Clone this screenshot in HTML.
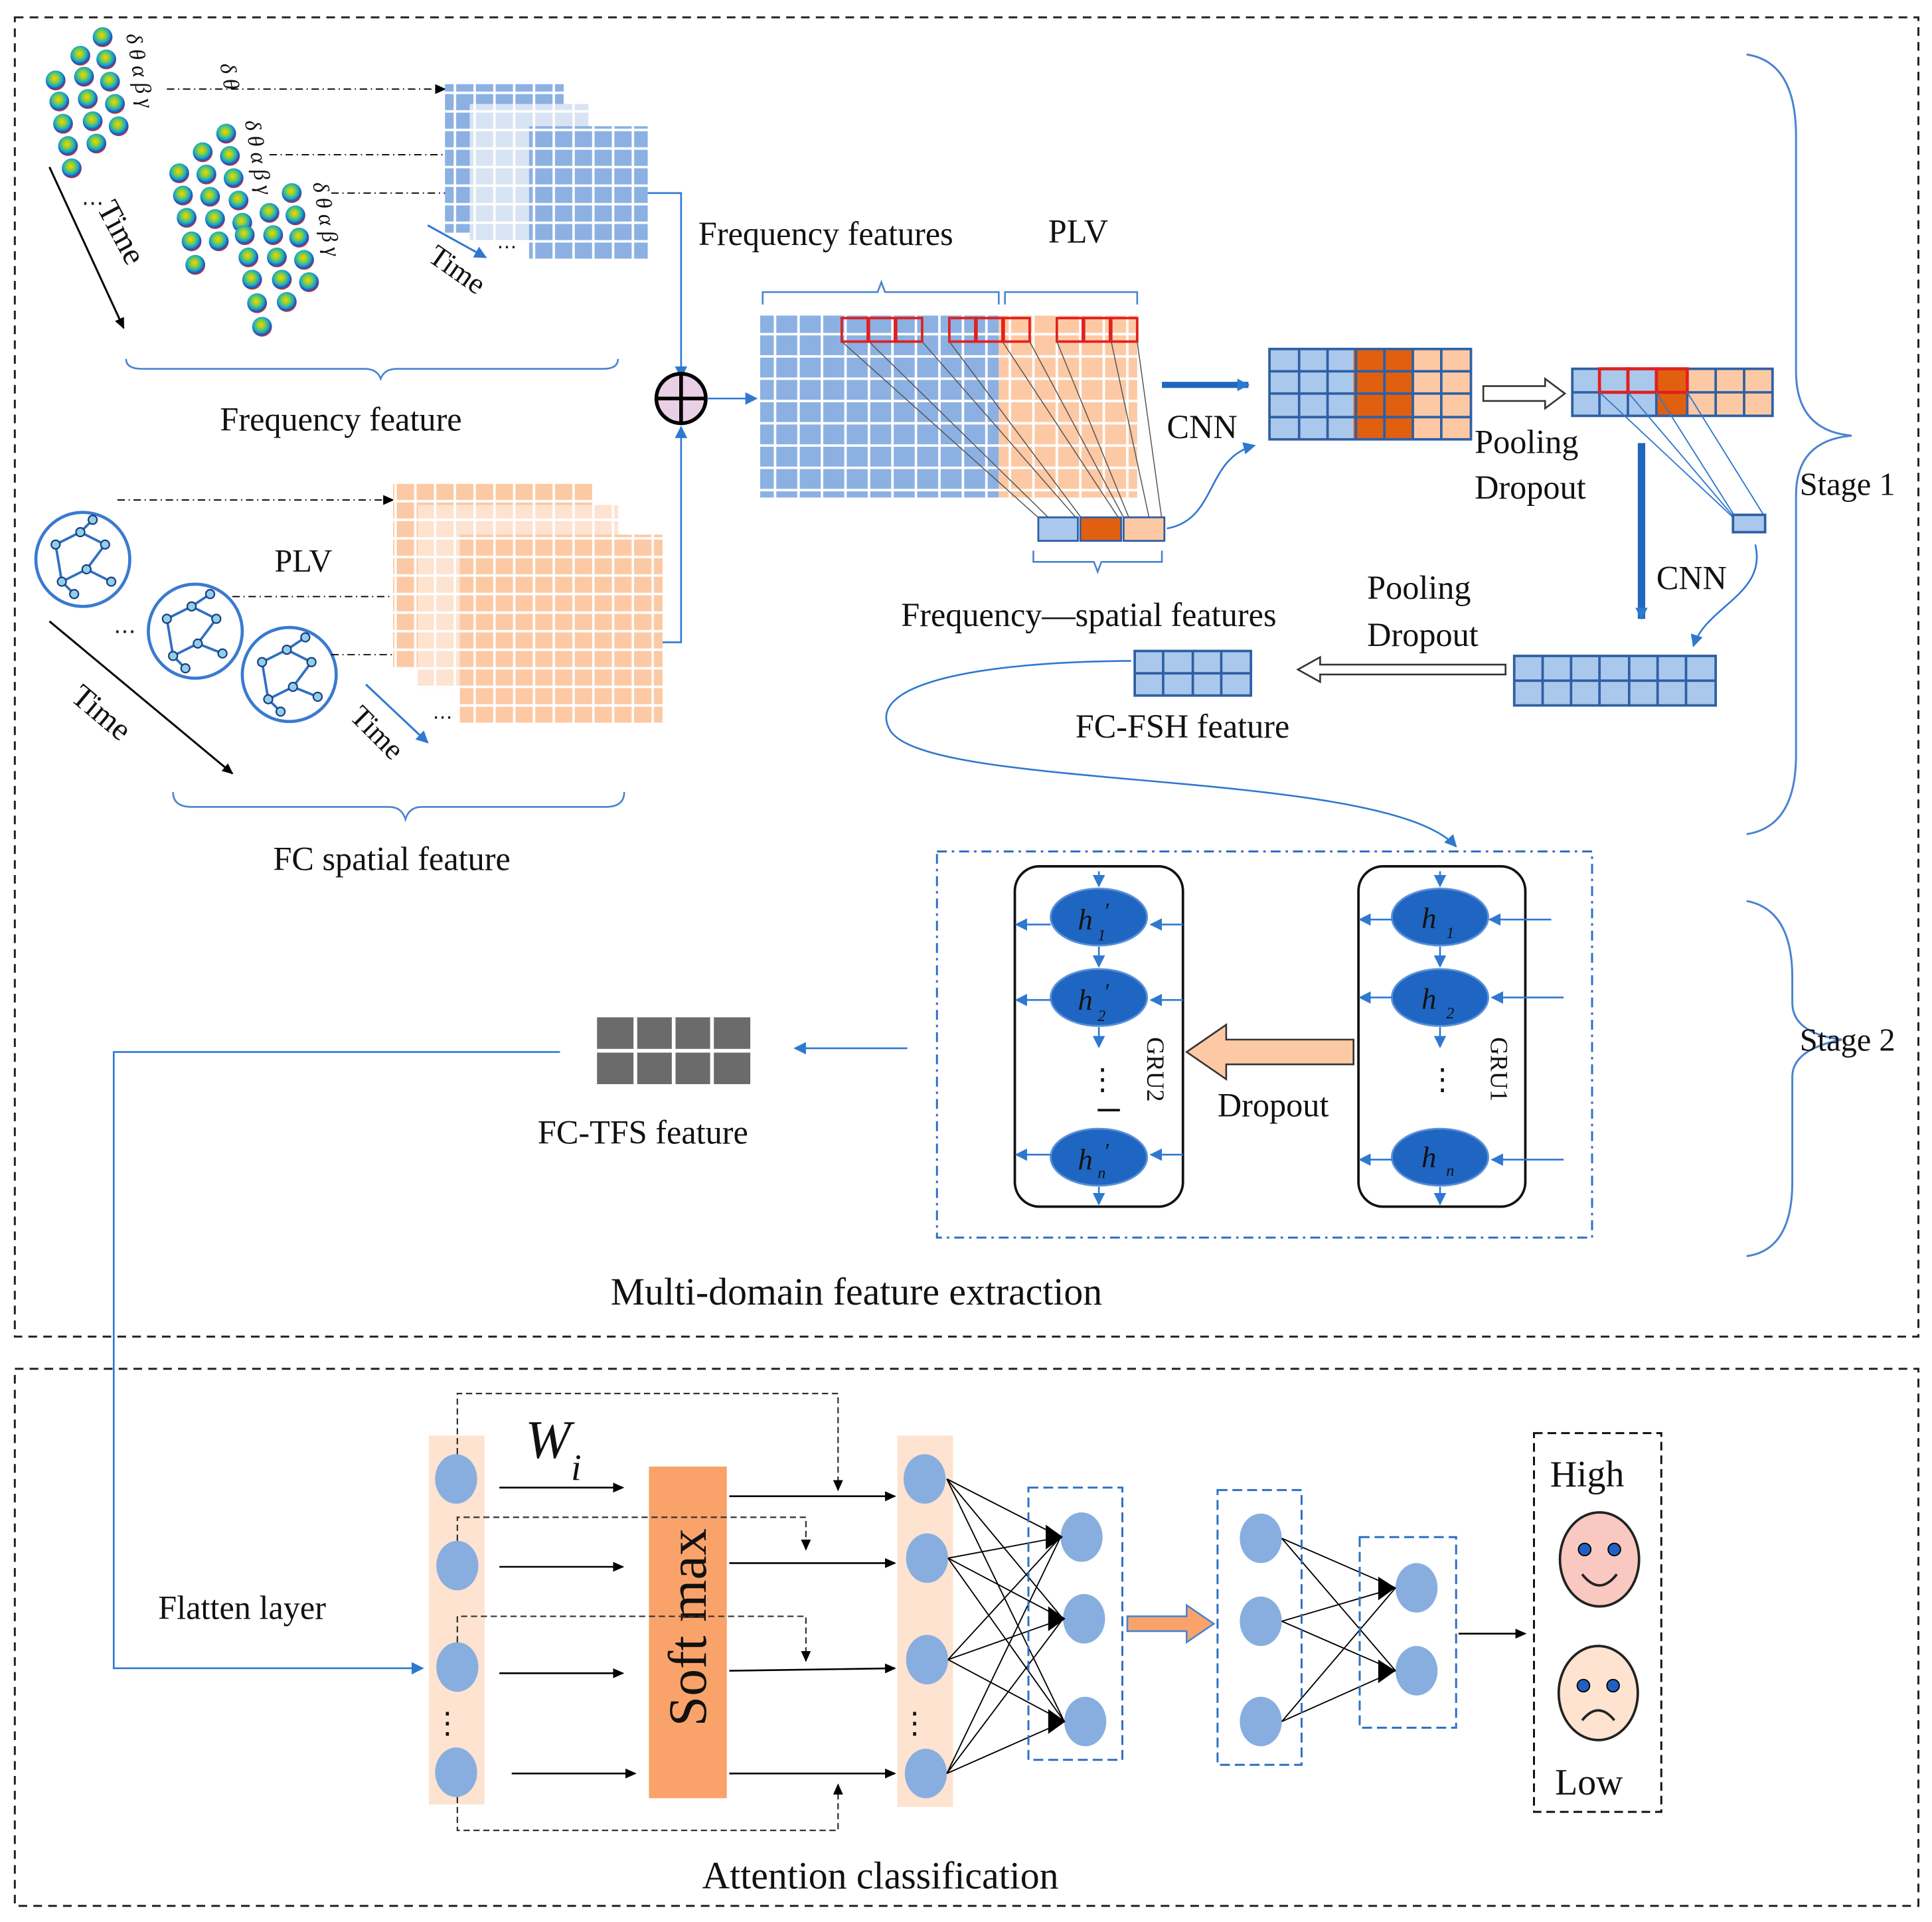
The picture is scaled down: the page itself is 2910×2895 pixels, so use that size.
<!DOCTYPE html>
<html><head><meta charset="utf-8"><style>
html,body{margin:0;padding:0;background:#fff;}
svg{display:block;}
text{font-family:"Liberation Serif",serif;fill:#111;}
</style></head><body>
<svg width="2910" height="2895" viewBox="0 0 1563 1553" preserveAspectRatio="none" xmlns="http://www.w3.org/2000/svg">
<defs>
<marker id="ab" markerWidth="10" markerHeight="10" refX="8" refY="5" orient="auto" markerUnits="userSpaceOnUse"><path d="M0,1 L9,5 L0,9 z" fill="#000"/></marker>
<marker id="au" markerWidth="12" markerHeight="12" refX="9" refY="6" orient="auto" markerUnits="userSpaceOnUse"><path d="M0,1 L10,6 L0,11 z" fill="#2f78d0"/></marker>
<pattern id="gb" width="19" height="18" patternUnits="userSpaceOnUse"><rect width="19" height="18" fill="#fff"/><rect x="1" y="1" width="17" height="16" fill="#8cb0e2"/></pattern>
<pattern id="go" width="19" height="18" patternUnits="userSpaceOnUse"><rect width="19" height="18" fill="#fff"/><rect x="1" y="1" width="17" height="16" fill="#fcc9a4"/></pattern>
<pattern id="gb2" width="16" height="15" patternUnits="userSpaceOnUse"><rect width="16" height="15" fill="#fff"/><rect x="1" y="1" width="14" height="13" fill="#8cb0e2"/></pattern>
<pattern id="gbl" width="16" height="15" patternUnits="userSpaceOnUse"><rect width="16" height="15" fill="#fff"/><rect x="1" y="1" width="14" height="13" fill="#d8e4f4"/></pattern>
<pattern id="go2" width="16" height="15" patternUnits="userSpaceOnUse"><rect width="16" height="15" fill="#fff"/><rect x="1" y="1" width="14" height="13" fill="#fcc9a4"/></pattern>
<pattern id="gol" width="16" height="15" patternUnits="userSpaceOnUse"><rect width="16" height="15" fill="#fff"/><rect x="1" y="1" width="14" height="13" fill="#fde3d0"/></pattern>
<radialGradient id="topo" cx="0.45" cy="0.4" r="0.6"><stop offset="0" stop-color="#ffd000"/><stop offset="0.35" stop-color="#7fd040"/><stop offset="0.65" stop-color="#18a8c8"/><stop offset="0.85" stop-color="#2050c0"/><stop offset="1" stop-color="#e03020"/></radialGradient>
</defs>
<rect width="1563" height="1553" fill="#fff"/>
<rect x="12" y="14" width="1540" height="1066" fill="none" stroke="#222" stroke-width="1.6" stroke-dasharray="7,5"/>
<rect x="12" y="1106" width="1540" height="434" fill="none" stroke="#222" stroke-width="1.6" stroke-dasharray="7,5"/>

<g fill="url(#topo)">
<circle cx="45" cy="65" r="8"/><circle cx="65" cy="45" r="8"/><circle cx="83" cy="30" r="8"/>
<circle cx="48" cy="82" r="8"/><circle cx="68" cy="62" r="8"/><circle cx="86" cy="48" r="8"/>
<circle cx="51" cy="100" r="8"/><circle cx="71" cy="80" r="8"/><circle cx="89" cy="66" r="8"/>
<circle cx="55" cy="118" r="8"/><circle cx="75" cy="98" r="8"/><circle cx="93" cy="84" r="8"/>
<circle cx="58" cy="136" r="8"/><circle cx="78" cy="116" r="8"/><circle cx="96" cy="102" r="8"/>
<circle cx="145" cy="140" r="8"/><circle cx="164" cy="123" r="8"/><circle cx="183" cy="108" r="8"/>
<circle cx="148" cy="158" r="8"/><circle cx="167" cy="141" r="8"/><circle cx="186" cy="126" r="8"/>
<circle cx="151" cy="176" r="8"/><circle cx="170" cy="159" r="8"/><circle cx="189" cy="144" r="8"/>
<circle cx="155" cy="195" r="8"/><circle cx="174" cy="177" r="8"/><circle cx="193" cy="162" r="8"/>
<circle cx="158" cy="214" r="8"/><circle cx="177" cy="195" r="8"/><circle cx="196" cy="180" r="8"/>
<circle cx="198" cy="190" r="8"/><circle cx="218" cy="172" r="8"/><circle cx="236" cy="156" r="8"/>
<circle cx="201" cy="208" r="8"/><circle cx="221" cy="190" r="8"/><circle cx="239" cy="174" r="8"/>
<circle cx="204" cy="226" r="8"/><circle cx="224" cy="208" r="8"/><circle cx="242" cy="192" r="8"/>
<circle cx="208" cy="245" r="8"/><circle cx="228" cy="226" r="8"/><circle cx="246" cy="210" r="8"/>
<circle cx="212" cy="264" r="8"/><circle cx="232" cy="244" r="8"/><circle cx="250" cy="228" r="8"/>
</g>
<g font-size="18" font-style="italic">
<text x="102" y="28" transform="rotate(80 102 28)">δ θ α β γ</text>
<text x="198" y="98" transform="rotate(80 198 98)">δ θ α β γ</text>
<text x="253" y="148" transform="rotate(80 253 148)">δ θ α β γ</text>
<text x="178" y="52" transform="rotate(80 178 52)">δ θ</text>
</g>
<line x1="40" y1="135" x2="100" y2="265" stroke="#000" stroke-width="1.6" marker-end="url(#ab)"/>
<text x="78" y="168" font-size="26" transform="rotate(62 78 168)">Time</text>
<text x="66" y="170" font-size="18">⋯</text>
<line x1="135" y1="72" x2="360" y2="72" stroke="#000" stroke-dasharray="6,3,1,3" marker-end="url(#ab)"/>
<line x1="218" y1="125" x2="383" y2="125" stroke="#000" stroke-dasharray="6,3,1,3" marker-end="url(#ab)"/>
<line x1="268" y1="156" x2="427" y2="156" stroke="#000" stroke-dasharray="6,3,1,3" marker-end="url(#ab)"/>

<rect x="360" y="68" width="96" height="120" fill="url(#gb2)"/>
<rect x="380" y="84" width="96" height="110" fill="url(#gbl)"/>
<rect x="428" y="102" width="96" height="108" fill="url(#gb2)"/>
<line x1="346" y1="182" x2="393" y2="208" stroke="#2f78d0" stroke-width="1.6" marker-end="url(#au)"/>
<text x="345" y="210" font-size="24" transform="rotate(35 345 210)">Time</text>
<text x="402" y="205" font-size="16">⋯</text>
<path d="M524,156 H551 V305" fill="none" stroke="#2f78d0" stroke-width="1.4" marker-end="url(#au)"/>

<path d="M102,290 Q102,298 115,298 H295 Q305,298 308,306 Q311,298 321,298 H488 Q500,298 500,290" fill="none" stroke="#4a84d0" stroke-width="1.4"/>
<text x="178" y="348" font-size="27">Frequency feature</text>

<circle cx="551" cy="322" r="20" fill="#e9d0e4" stroke="#000" stroke-width="3"/>
<line x1="531" y1="322" x2="571" y2="322" stroke="#000" stroke-width="3"/>
<line x1="551" y1="302" x2="551" y2="342" stroke="#000" stroke-width="3"/>
<line x1="572" y1="322" x2="612" y2="322" stroke="#2f78d0" stroke-width="1.4" marker-end="url(#au)"/>
<path d="M536,519 H551 V345" fill="none" stroke="#2f78d0" stroke-width="1.4" marker-end="url(#au)"/>

<g fill="none" stroke="#3a7ad0" stroke-width="2.5">
<circle cx="67" cy="452" r="38"/><circle cx="158" cy="510" r="38"/><circle cx="234" cy="545" r="38"/>
</g>
<g stroke="#2f6fc4" stroke-width="2" fill="none">
<path d="M45,440 L65,430 L85,440 L70,460 L50,470 L60,480 M65,430 L75,420 M70,460 L90,470 M45,440 L50,470"/>
<path d="M135,500 L155,490 L175,500 L160,520 L140,530 L150,540 M155,490 L170,480 M160,520 L180,528 M135,500 L140,530"/>
<path d="M212,535 L232,525 L252,535 L237,555 L217,565 L227,575 M232,525 L247,515 M237,555 L257,563 M212,535 L217,565"/>
</g>
<g fill="#8fd0e8" stroke="#1c3c80" stroke-width="1.2">
<circle cx="45" cy="440" r="3.5"/><circle cx="65" cy="430" r="3.5"/><circle cx="85" cy="440" r="3.5"/><circle cx="70" cy="460" r="3.5"/><circle cx="50" cy="470" r="3.5"/><circle cx="60" cy="480" r="3.5"/><circle cx="75" cy="420" r="3.5"/><circle cx="90" cy="470" r="3.5"/>
<circle cx="135" cy="500" r="3.5"/><circle cx="155" cy="490" r="3.5"/><circle cx="175" cy="500" r="3.5"/><circle cx="160" cy="520" r="3.5"/><circle cx="140" cy="530" r="3.5"/><circle cx="150" cy="540" r="3.5"/><circle cx="170" cy="480" r="3.5"/><circle cx="180" cy="528" r="3.5"/>
<circle cx="212" cy="535" r="3.5"/><circle cx="232" cy="525" r="3.5"/><circle cx="252" cy="535" r="3.5"/><circle cx="237" cy="555" r="3.5"/><circle cx="217" cy="565" r="3.5"/><circle cx="227" cy="575" r="3.5"/><circle cx="247" cy="515" r="3.5"/><circle cx="257" cy="563" r="3.5"/>
</g>
<text x="222" y="462" font-size="26">PLV</text>
<text x="92" y="516" font-size="18">⋯</text>
<line x1="95" y1="404" x2="318" y2="404" stroke="#000" stroke-dasharray="6,3,1,3" marker-end="url(#ab)"/>
<line x1="188" y1="482" x2="343" y2="482" stroke="#000" stroke-dasharray="6,3,1,3" marker-end="url(#ab)"/>
<line x1="268" y1="529" x2="370" y2="529" stroke="#000" stroke-dasharray="6,3,1,3" marker-end="url(#ab)"/>
<rect x="318" y="390" width="162" height="150" fill="url(#go2)"/>
<rect x="338" y="408" width="162" height="148" fill="url(#gol)"/>
<rect x="372" y="432" width="164" height="152" fill="url(#go2)"/>
<line x1="40" y1="502" x2="188" y2="625" stroke="#000" stroke-width="1.6" marker-end="url(#ab)"/>
<text x="56" y="565" font-size="26" transform="rotate(40 56 565)">Time</text>
<line x1="296" y1="553" x2="346" y2="600" stroke="#2f78d0" stroke-width="1.6" marker-end="url(#au)"/>
<text x="282" y="580" font-size="24" transform="rotate(45 282 580)">Time</text>
<text x="350" y="585" font-size="16">⋯</text>
<path d="M140,640 Q140,652 155,652 H315 Q325,652 328,662 Q331,652 341,652 H490 Q505,652 505,640" fill="none" stroke="#4a84d0" stroke-width="1.4"/>
<text x="221" y="703" font-size="27">FC spatial feature</text>

<text x="565" y="198" font-size="27">Frequency features</text>
<text x="848" y="196" font-size="27">PLV</text>
<path d="M617,246 V236 H710 L713,228 L716,236 H808 V246 M813,246 V236 H920 V246" fill="none" stroke="#4a84d0" stroke-width="1.4"/>
<rect x="615" y="255" width="193" height="147" fill="url(#gb)"/>
<rect x="808" y="255" width="112" height="147" fill="url(#go)"/>
<g fill="none" stroke="#e02020" stroke-width="2">
<rect x="681" y="257" width="21" height="19"/><rect x="703" y="257" width="21" height="19"/><rect x="725" y="257" width="21" height="19"/>
<rect x="768" y="257" width="21" height="19"/><rect x="790" y="257" width="21" height="19"/><rect x="812" y="257" width="21" height="19"/>
<rect x="855" y="257" width="21" height="19"/><rect x="877" y="257" width="21" height="19"/><rect x="899" y="257" width="21" height="19"/>
</g>
<g stroke="#555" stroke-width="0.8">
<line x1="681" y1="276" x2="842" y2="420"/><line x1="746" y1="276" x2="872" y2="420"/>
<line x1="703" y1="276" x2="850" y2="420"/><line x1="768" y1="276" x2="876" y2="420"/>
<line x1="811" y1="276" x2="906" y2="420"/><line x1="833" y1="276" x2="910" y2="420"/>
<line x1="855" y1="276" x2="914" y2="420"/><line x1="920" y1="276" x2="940" y2="420"/>
<line x1="899" y1="276" x2="930" y2="420"/>
</g>
<rect x="840" y="418" width="32" height="19" fill="#a9c8ec" stroke="#2f5fa4" stroke-width="1.5"/>
<rect x="874" y="418" width="33" height="19" fill="#e06010" stroke="#2f5fa4" stroke-width="1.5"/>
<rect x="909" y="418" width="33" height="19" fill="#fcc9a4" stroke="#2f5fa4" stroke-width="1.5"/>
<path d="M836,445 V454 H885 L888,462 L891,454 H940 V445" fill="none" stroke="#4a84d0" stroke-width="1.4"/>
<text x="729" y="506" font-size="27">Frequency—spatial features</text>
<path d="M944,427 C985,420 975,370 1015,360" fill="none" stroke="#2f78d0" stroke-width="1.4" marker-end="url(#au)"/>
<line x1="940" y1="311" x2="1010" y2="311" stroke="#2166c0" stroke-width="5" marker-end="url(#au)"/>
<text x="944" y="354" font-size="27">CNN</text>

<rect x="1027" y="282" width="68" height="73" fill="#a9c8ec"/>
<rect x="1095" y="282" width="48" height="73" fill="#e06010"/>
<rect x="1143" y="282" width="47" height="73" fill="#fcc9a4"/>
<path d="M1027,300 H1190 M1027,318 H1190 M1027,337 H1190 M1051,282 V355 M1074,282 V355 M1097,282 V355 M1120,282 V355 M1143,282 V355 M1166,282 V355" stroke="#2f5fa4" stroke-width="2"/>
<rect x="1027" y="282" width="163" height="73" fill="none" stroke="#2f5fa4" stroke-width="2"/>
<path d="M1200,312 H1250 V306 L1266,318 L1250,330 V324 H1200 Z" fill="#fff" stroke="#333" stroke-width="1.4"/>
<text x="1193" y="366" font-size="27">Pooling</text>
<text x="1193" y="403" font-size="27">Dropout</text>

<rect x="1272" y="298" width="162" height="38" fill="#a9c8ec"/>
<rect x="1340" y="298" width="25" height="38" fill="#e06010"/>
<rect x="1365" y="298" width="69" height="38" fill="#fcc9a4"/>
<path d="M1272,317 H1434 M1294,298 V336 M1317,298 V336 M1340,298 V336 M1365,298 V336 M1388,298 V336 M1411,298 V336" stroke="#2f5fa4" stroke-width="2"/>
<rect x="1272" y="298" width="162" height="38" fill="none" stroke="#2f5fa4" stroke-width="2"/>
<g fill="none" stroke="#e02020" stroke-width="2.5"><rect x="1294" y="298" width="23" height="19"/><rect x="1317" y="298" width="23" height="19"/><rect x="1340" y="298" width="25" height="19"/></g>
<g stroke="#2f78d0" stroke-width="1"><line x1="1294" y1="317" x2="1402" y2="418"/><line x1="1340" y1="317" x2="1404" y2="418"/><line x1="1365" y1="317" x2="1428" y2="418"/><line x1="1317" y1="317" x2="1403" y2="418"/></g>
<rect x="1402" y="416" width="26" height="14" fill="#a9c8ec" stroke="#2f5fa4" stroke-width="2"/>
<line x1="1328" y1="358" x2="1328" y2="500" stroke="#2166c0" stroke-width="6" marker-end="url(#au)"/>
<text x="1340" y="476" font-size="27">CNN</text>
<path d="M1420,440 C1430,480 1380,490 1370,522" fill="none" stroke="#2f78d0" stroke-width="1.4" marker-end="url(#au)"/>
<rect x="1225" y="530" width="163" height="40" fill="#a9c8ec"/>
<path d="M1225,550 H1388 M1248,530 V570 M1271,530 V570 M1294,530 V570 M1318,530 V570 M1341,530 V570 M1364,530 V570" stroke="#2f5fa4" stroke-width="2"/>
<rect x="1225" y="530" width="163" height="40" fill="none" stroke="#2f5fa4" stroke-width="2"/>
<text x="1106" y="484" font-size="27">Pooling</text>
<text x="1106" y="522" font-size="27">Dropout</text>
<path d="M1218,537 H1068 V531 L1050,541 L1068,551 V545 H1218 Z" fill="#fff" stroke="#333" stroke-width="1.4"/>
<rect x="918" y="526" width="94" height="36" fill="#a9c8ec"/>
<path d="M918,544 H1012 M941,526 V562 M965,526 V562 M988,526 V562" stroke="#2f5fa4" stroke-width="2"/>
<rect x="918" y="526" width="94" height="36" fill="none" stroke="#2f5fa4" stroke-width="2"/>
<text x="870" y="596" font-size="27">FC-FSH feature</text>
<path d="M915,534 C780,535 700,555 720,590 C750,640 1120,620 1178,684" fill="none" stroke="#2f78d0" stroke-width="1.4" marker-end="url(#au)"/>

<path d="M1413,44 Q1453,50 1453,110 V300 Q1453,348 1498,352 Q1453,356 1453,400 V610 Q1453,668 1413,674" fill="none" stroke="#4a84d0" stroke-width="1.6"/>
<text x="1456" y="400" font-size="26">Stage 1</text>
<path d="M1413,728 Q1450,735 1450,790 V810 Q1450,835 1490,840 Q1450,848 1450,870 V955 Q1450,1010 1413,1015" fill="none" stroke="#4a84d0" stroke-width="1.6"/>
<text x="1456" y="849" font-size="26">Stage 2</text>

<rect x="758" y="688" width="530" height="312" fill="none" stroke="#2f6fc4" stroke-width="1.6" stroke-dasharray="8,4,2,4"/>
<rect x="821" y="700" width="136" height="275" rx="20" fill="#fff" stroke="#111" stroke-width="2"/>
<rect x="1099" y="700" width="135" height="275" rx="20" fill="#fff" stroke="#111" stroke-width="2"/>
<g fill="#1f66c2" stroke="#5a8fd8" stroke-width="1.5">
<ellipse cx="889" cy="741" rx="39" ry="23"/><ellipse cx="889" cy="806" rx="39" ry="23"/><ellipse cx="889" cy="935" rx="39" ry="23"/>
<ellipse cx="1165" cy="741" rx="39" ry="23"/><ellipse cx="1165" cy="806" rx="39" ry="23"/><ellipse cx="1165" cy="935" rx="39" ry="23"/>
</g>
<g font-size="24" font-style="italic" fill="#111">
<text x="872" y="751">h</text><text x="888" y="760" font-size="13">1</text><text x="893" y="742" font-size="18">′</text>
<text x="872" y="816">h</text><text x="888" y="825" font-size="13">2</text><text x="893" y="807" font-size="18">′</text>
<text x="872" y="945">h</text><text x="888" y="952" font-size="13">n</text><text x="893" y="936" font-size="18">′</text>
<text x="1150" y="750">h</text><text x="1170" y="758" font-size="13">1</text>
<text x="1150" y="815">h</text><text x="1170" y="823" font-size="13">2</text>
<text x="1150" y="943">h</text><text x="1170" y="950" font-size="13">n</text>
</g>
<g stroke="#2f78d0" stroke-width="1.4" fill="none">
<line x1="889" y1="704" x2="889" y2="716" marker-end="url(#au)"/><line x1="889" y1="765" x2="889" y2="781" marker-end="url(#au)"/><line x1="889" y1="830" x2="889" y2="846" marker-end="url(#au)"/><line x1="889" y1="959" x2="889" y2="973" marker-end="url(#au)"/>
<line x1="1165" y1="704" x2="1165" y2="716" marker-end="url(#au)"/><line x1="1165" y1="765" x2="1165" y2="781" marker-end="url(#au)"/><line x1="1165" y1="830" x2="1165" y2="846" marker-end="url(#au)"/><line x1="1165" y1="959" x2="1165" y2="973" marker-end="url(#au)"/>
<line x1="957" y1="747" x2="931" y2="747" marker-end="url(#au)"/><line x1="850" y1="747" x2="822" y2="747" marker-end="url(#au)"/>
<line x1="957" y1="808" x2="931" y2="808" marker-end="url(#au)"/><line x1="850" y1="808" x2="822" y2="808" marker-end="url(#au)"/>
<line x1="957" y1="933" x2="931" y2="933" marker-end="url(#au)"/><line x1="850" y1="933" x2="822" y2="933" marker-end="url(#au)"/>
<line x1="1255" y1="743" x2="1205" y2="743" marker-end="url(#au)"/><line x1="1126" y1="743" x2="1100" y2="743" marker-end="url(#au)"/>
<line x1="1265" y1="806" x2="1207" y2="806" marker-end="url(#au)"/><line x1="1126" y1="806" x2="1100" y2="806" marker-end="url(#au)"/>
<line x1="1265" y1="937" x2="1207" y2="937" marker-end="url(#au)"/><line x1="1126" y1="937" x2="1100" y2="937" marker-end="url(#au)"/>
</g>
<text x="880" y="880" font-size="24">⋮</text>
<line x1="888" y1="897" x2="906" y2="897" stroke="#111" stroke-width="2"/>
<text x="1155" y="880" font-size="24">⋮</text>
<text x="928" y="838" font-size="20" transform="rotate(90 928 838)">GRU2</text>
<text x="1206" y="838" font-size="20" transform="rotate(90 1206 838)">GRU1</text>
<path d="M1095,840 H992 V828 L960,850 L992,872 V860 H1095 Z" fill="#fcc9a4" stroke="#333" stroke-width="1.4"/>
<text x="985" y="902" font-size="27">Dropout</text>
<line x1="734" y1="847" x2="643" y2="847" stroke="#2f78d0" stroke-width="1.4" marker-end="url(#au)"/>
<rect x="483" y="822" width="124" height="54" fill="#6b6b6b"/>
<path d="M483,849 H607 M514,822 V876 M545,822 V876 M576,822 V876" stroke="#fff" stroke-width="3"/>
<text x="435" y="924" font-size="27">FC-TFS feature</text>
<text x="494" y="1054" font-size="31">Multi-domain feature extraction</text>
<path d="M453,850 H92 V1348 H342" fill="none" stroke="#2f78d0" stroke-width="1.4" marker-end="url(#au)"/>

<text x="128" y="1308" font-size="27">Flatten layer</text>
<rect x="347" y="1160" width="45" height="298" fill="#fde3d0"/>
<rect x="726" y="1160" width="45" height="300" fill="#fde3d0"/>
<g fill="#88aee0">
<ellipse cx="369" cy="1195" rx="17" ry="20"/><ellipse cx="370" cy="1265" rx="17" ry="20"/><ellipse cx="370" cy="1347" rx="17" ry="20"/><ellipse cx="369" cy="1432" rx="17" ry="20"/>
<ellipse cx="748" cy="1195" rx="17" ry="20"/><ellipse cx="750" cy="1259" rx="17" ry="20"/><ellipse cx="750" cy="1341" rx="17" ry="20"/><ellipse cx="749" cy="1433" rx="17" ry="20"/>
<ellipse cx="875" cy="1242" rx="17" ry="20"/><ellipse cx="877" cy="1308" rx="17" ry="20"/><ellipse cx="878" cy="1391" rx="17" ry="20"/>
<ellipse cx="1020" cy="1243" rx="17" ry="20"/><ellipse cx="1020" cy="1310" rx="17" ry="20"/><ellipse cx="1020" cy="1391" rx="17" ry="20"/>
<ellipse cx="1146" cy="1283" rx="17" ry="20"/><ellipse cx="1146" cy="1350" rx="17" ry="20"/>
</g>
<text x="350" y="1400" font-size="24">⋮</text><text x="728" y="1400" font-size="24">⋮</text>
<text x="425" y="1178" font-size="44" font-style="italic">W</text><text x="462" y="1196" font-size="30" font-style="italic">i</text>
<rect x="525" y="1185" width="63" height="268" fill="#f9a36b"/>
<text x="571" y="1395" font-size="44" transform="rotate(-90 571 1395)">Soft max</text>
<g stroke="#000" stroke-width="1.4">
<line x1="404" y1="1202" x2="504" y2="1202" marker-end="url(#ab)"/>
<line x1="404" y1="1266" x2="504" y2="1266" marker-end="url(#ab)"/>
<line x1="404" y1="1352" x2="504" y2="1352" marker-end="url(#ab)"/>
<line x1="414" y1="1433" x2="514" y2="1433" marker-end="url(#ab)"/>
<line x1="590" y1="1209" x2="724" y2="1209" marker-end="url(#ab)"/>
<line x1="590" y1="1263" x2="724" y2="1263" marker-end="url(#ab)"/>
<line x1="590" y1="1350" x2="724" y2="1348" marker-end="url(#ab)"/>
<line x1="590" y1="1433" x2="724" y2="1433" marker-end="url(#ab)"/>
</g>
<g stroke="#333" stroke-width="1.2" fill="none" stroke-dasharray="5,3">
<path d="M370,1175 V1126 H678 V1204" marker-end="url(#ab)"/>
<path d="M370,1245 V1226 H652 V1252" marker-end="url(#ab)"/>
<path d="M370,1327 V1306 H652 V1342" marker-end="url(#ab)"/>
<path d="M370,1452 V1479 H678 V1442" marker-end="url(#ab)"/>
</g>
<g stroke="#000" stroke-width="1">
<line x1="766" y1="1195" x2="858" y2="1242"/><line x1="766" y1="1195" x2="860" y2="1308"/><line x1="766" y1="1195" x2="861" y2="1391"/>
<line x1="767" y1="1259" x2="858" y2="1242"/><line x1="767" y1="1259" x2="860" y2="1308"/><line x1="767" y1="1259" x2="861" y2="1391"/>
<line x1="767" y1="1341" x2="858" y2="1242"/><line x1="767" y1="1341" x2="860" y2="1308"/><line x1="767" y1="1341" x2="861" y2="1391"/>
<line x1="766" y1="1433" x2="858" y2="1242"/><line x1="766" y1="1433" x2="860" y2="1308"/><line x1="766" y1="1433" x2="861" y2="1391"/>
<line x1="1037" y1="1243" x2="1129" y2="1283"/><line x1="1037" y1="1243" x2="1129" y2="1350"/>
<line x1="1037" y1="1310" x2="1129" y2="1283"/><line x1="1037" y1="1310" x2="1129" y2="1350"/>
<line x1="1037" y1="1391" x2="1129" y2="1283"/><line x1="1037" y1="1391" x2="1129" y2="1350"/>
</g>
<g fill="#000"><path d="M846,1232 L860,1242 L846,1252z"/><path d="M848,1298 L862,1308 L848,1318z"/><path d="M848,1381 L862,1391 L848,1401z"/>
<path d="M1115,1274 L1129,1283 L1115,1293z"/><path d="M1115,1341 L1129,1350 L1115,1360z"/></g>
<g fill="none" stroke="#2f6fc4" stroke-width="1.6" stroke-dasharray="8,4">
<rect x="832" y="1202" width="76" height="220"/><rect x="985" y="1204" width="68" height="222"/><rect x="1100" y="1242" width="78" height="154"/>
</g>
<path d="M912,1306 H960 V1297 L982,1312 L960,1327 V1318 H912 Z" fill="#f9a36b" stroke="#4a84d0" stroke-width="1.4"/>
<line x1="1180" y1="1320" x2="1234" y2="1320" stroke="#000" stroke-width="1.4" marker-end="url(#ab)"/>
<rect x="1241" y="1158" width="103" height="306" fill="none" stroke="#111" stroke-width="1.6" stroke-dasharray="7,4"/>
<text x="1254" y="1201" font-size="30">High</text>
<text x="1258" y="1450" font-size="30">Low</text>
<ellipse cx="1294" cy="1260" rx="32" ry="38" fill="#f9c8c0" stroke="#222" stroke-width="2"/>
<circle cx="1282" cy="1252" r="5" fill="#2060c0" stroke="#000"/><circle cx="1306" cy="1252" r="5" fill="#2060c0" stroke="#000"/>
<path d="M1280,1272 Q1294,1290 1308,1272" fill="none" stroke="#222" stroke-width="2"/>
<ellipse cx="1293" cy="1368" rx="32" ry="38" fill="#fde3d0" stroke="#222" stroke-width="2"/>
<circle cx="1281" cy="1362" r="5" fill="#2060c0" stroke="#000"/><circle cx="1305" cy="1362" r="5" fill="#2060c0" stroke="#000"/>
<path d="M1280,1390 Q1293,1374 1306,1390" fill="none" stroke="#222" stroke-width="2"/>
<text x="568" y="1526" font-size="31">Attention classification</text>
</svg>
</body></html>
